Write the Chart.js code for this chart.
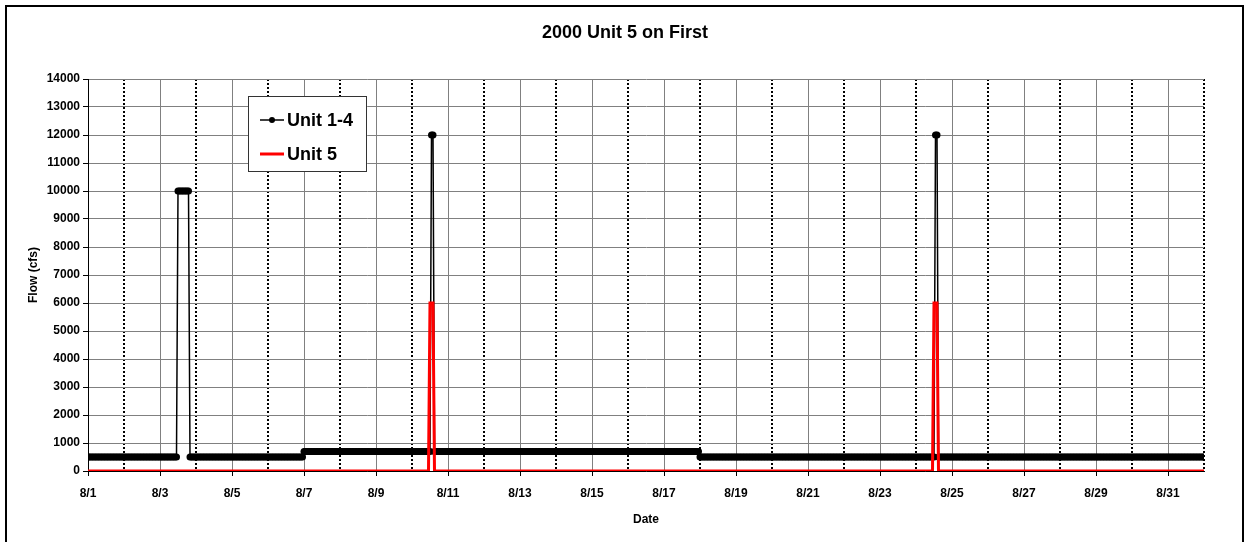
<!DOCTYPE html>
<html>
<head>
<meta charset="utf-8">
<script src="https://cdn.jsdelivr.net/npm/chart.js@4"></script>
<style>
html,body{margin:0;padding:0;background:#fff;}
canvas{display:block;}
</style>
</head>
<body>
<canvas id="c" width="1245" height="542"></canvas>
<script>
// ---- data ----
const chartTitle = '2000 Unit 5 on First';
const seriesNames = ['Unit 1-4', 'Unit 5'];
const xTitle = 'Date';
const yTitle = 'Flow (cfs)';
// hourly series stored as runs, starting 8/1 00:00: level (cfs) and number of hours at that level
const unit14Levels = [500, 10000, 500, 700, 12000, 700, 500, 12000, 500];
const unit14Hours  = [60,  8,     76,  85,  2,     177, 157, 2,     178];
const unit5Levels  = [0,   6000,  0,   6000, 0];
const unit5Hours   = [228, 3,     333, 3,    178];
// x tick labels (every second day) and the days with dotted lines
const xTickLabels = ['8/1','8/3','8/5','8/7','8/9','8/11','8/13','8/15','8/17','8/19','8/21','8/23','8/25','8/27','8/29','8/31'];
const dottedDays  = [2,4,6,8,10,12,14,16,18,20,22,24,26,28,30,32];
const yMax = 14000, yStep = 1000;

function expandRuns(levels, hours) {
  const pts = [];
  let h = 0;
  levels.forEach((v, i) => {
    for (let k = 0; k < hours[i]; k++) { pts.push({x: h, y: v}); h++; }
  });
  return pts;
}
const totalHours = unit14Hours.reduce((a, b) => a + b, 0) - 1;
const majorHours = xTickLabels.map((l) => (parseInt(l.split('/')[1]) - 1) * 24);
const minorHours = dottedDays.map(d => (d - 1) * 24);

const FONT = "'Liberation Sans', Arial, Helvetica, sans-serif";
Chart.defaults.font.family = FONT;
Chart.defaults.color = '#000';

const framePlugin = {
  id: 'frame',
  beforeDraw(chart) {
    const ctx = chart.ctx;
    ctx.save();
    ctx.fillStyle = '#fff';
    ctx.fillRect(0, 0, chart.width, chart.height);
    ctx.restore();
  },
  afterDraw(chart) {
    const ctx = chart.ctx;
    ctx.save();
    ctx.strokeStyle = '#000';
    ctx.lineWidth = 2;
    ctx.strokeRect(6, 6, 1237, 600);
    ctx.fillStyle = '#000';
    ctx.font = 'bold 18px ' + FONT;
    ctx.textAlign = 'center';
    ctx.textBaseline = 'middle';
    ctx.fillText(chartTitle, 625, 33);
    ctx.restore();
  }
};

const legendPlugin = {
  id: 'legendBox',
  afterDatasetsDraw(chart) {
    const ctx = chart.ctx;
    const ds = chart.data.datasets;
    ctx.save();
    ctx.fillStyle = '#fff';
    ctx.fillRect(248.5, 96.5, 118, 75);
    ctx.strokeStyle = '#333';
    ctx.lineWidth = 1;
    ctx.strokeRect(248.5, 96.5, 118, 75);
    const rows = [120, 154];
    ds.forEach((d, i) => {
      const y = rows[i];
      ctx.strokeStyle = d.borderColor;
      ctx.lineWidth = d.borderWidth;
      ctx.beginPath();
      ctx.moveTo(260, y);
      ctx.lineTo(284, y);
      ctx.stroke();
      if (d.pointRadius > 0) {
        ctx.fillStyle = d.pointBackgroundColor;
        ctx.beginPath();
        ctx.arc(272, y, 3, 0, Math.PI * 2);
        ctx.fill();
      }
      ctx.fillStyle = '#000';
      ctx.font = 'bold 18px ' + FONT;
      ctx.textAlign = 'left';
      ctx.textBaseline = 'middle';
      ctx.fillText(d.label, 287, y + 1);
    });
    ctx.restore();
  }
};

new Chart(document.getElementById('c'), {
  type: 'line',
  data: {
    datasets: [
      {
        label: seriesNames[0],
        data: expandRuns(unit14Levels, unit14Hours),
        borderColor: '#000',
        backgroundColor: '#000',
        borderWidth: 1.5,
        pointRadius: 3.5,
        pointBorderWidth: 0,
        pointBackgroundColor: '#000',
        pointHoverRadius: 0,
        order: 1,
        xAxisID: 'x', yAxisID: 'y'
      },
      {
        label: seriesNames[1],
        data: expandRuns(unit5Levels, unit5Hours),
        borderColor: '#ff0000',
        backgroundColor: '#ff0000',
        borderWidth: 3,
        pointRadius: 0,
        pointHoverRadius: 0,
        order: 0,
        xAxisID: 'x', yAxisID: 'y'
      }
    ]
  },
  options: {
    responsive: false,
    animation: false,
    devicePixelRatio: 1,
    events: [],
    layout: { padding: { left: 10, right: 41, top: 79, bottom: 11 } },
    plugins: {
      legend: { display: false },
      tooltip: { enabled: false },
      title: { display: false }
    },
    scales: {
      x: {
        type: 'linear', position: 'bottom', min: 0, max: totalHours,
        afterBuildTicks: s => { s.ticks = majorHours.map(v => ({ value: v })); },
        afterFit: s => { s.height = 60; },
        ticks: {
          autoSkip: false, maxRotation: 0, padding: 10,
          callback: (v, i) => xTickLabels[i],
          font: { size: 12, weight: 'bold' }, color: '#000'
        },
        grid: { color: '#808080', lineWidth: 1, tickLength: 5, tickColor: '#000' },
        border: { color: '#000', width: 1 },
        title: { display: true, text: xTitle, color: '#000', font: { size: 12, weight: 'bold' }, padding: { top: 0, bottom: 4 } }
      },
      xMinor: {
        type: 'linear', position: 'top', min: 0, max: totalHours,
        afterBuildTicks: s => { s.ticks = minorHours.map(v => ({ value: v })); },
        afterFit: s => { s.height = 0; },
        ticks: { display: false },
        grid: { color: '#000', lineWidth: 2, drawTicks: false },
        border: { display: false, dash: [2, 2] }
      },
      y: {
        min: 0, max: yMax,
        afterFit: s => { s.width = 78; },
        ticks: { stepSize: yStep, padding: 3, callback: v => String(v), font: { size: 12, weight: 'bold' }, color: '#000' },
        grid: { color: '#808080', lineWidth: 1, tickLength: 5, tickColor: '#000' },
        border: { color: '#000', width: 1 },
        title: { display: true, text: yTitle, color: '#000', font: { size: 12, weight: 'bold' }, padding: { top: 16, bottom: 0 } }
      }
    }
  },
  plugins: [framePlugin, legendPlugin]
});
</script>
</body>
</html>
